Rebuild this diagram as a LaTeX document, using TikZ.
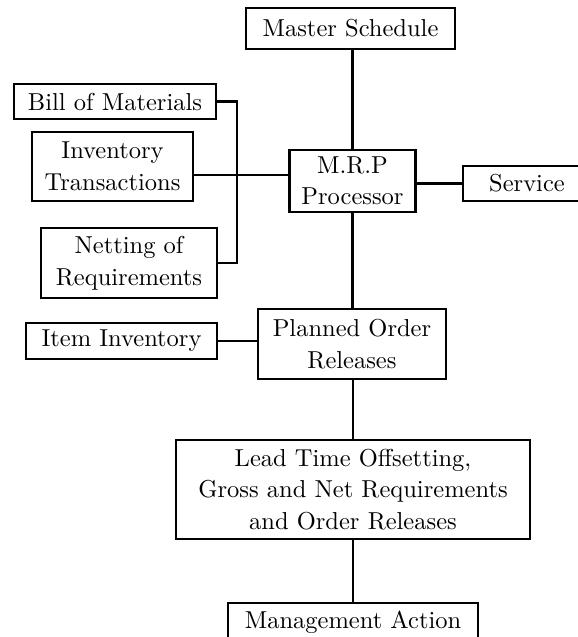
\documentclass[tikz,border=0pt]{standalone}
\usepackage{fontspec}
% the 10pt design of Latin Modern, scaled up: wider and darker than the display cuts
\setmainfont{lmroman10-regular}[Extension=.otf]
\begin{document}
\begin{tikzpicture}[x=1pt,y=-1pt,
  box/.style={draw, line width=2.7pt, align=center, inner sep=0pt,
    font=\fontsize{24.5}{31.5}\selectfont},
  link/.style={line width=2.7pt}]
\useasboundingbox (0,0) rectangle (578,637);
\clip (0,0) rectangle (578,637);

% boxes
\node[box, minimum width=209, minimum height=41] (master)  at (350.5,28.5) {Master Schedule};
\node[box, minimum width=126, minimum height=62] (mrp)     at (352.5,181)  {M.R.P\\Processor};
\node[box, minimum width=128, minimum height=35] (service) at (527,183.5)  {Service};
\node[box, minimum width=202, minimum height=35] (bom)     at (115,101.5)  {Bill of Materials};
\node[box, minimum width=161, minimum height=69] (invtr)   at (112.5,166.5){Inventory\\Transactions};
\node[box, minimum width=176, minimum height=70] (netting) at (129,263)    {Netting of\\Requirements};
\node[box, minimum width=191, minimum height=36] (item)    at (121.5,341)  {Item Inventory};
\node[box, minimum width=188, minimum height=70] (planned) at (352,344)    {Planned Order\\Releases};
\node[box, minimum width=354, minimum height=99] (lead)    at (353,489.5)  {Lead Time Offsetting,\\Gross and Net Requirements\\and Order Releases};
\node[box, minimum width=250, minimum height=38] (mgmt)    at (353,622)    {Management Action};

% collector bus for the left-hand inputs
\coordinate (bus) at (237,175);

% connectors
\draw[link] (mrp.north |- master.south) -- (mrp.north);
\draw[link] (service.west -| mrp.east) -- (service.west);
\draw[link] (bom.east) -- (bom.east -| bus) -- (netting.east -| bus) -- (netting.east);
\draw[link] (invtr.east |- bus) -- (bus -| mrp.west);
\draw[link] (mrp.south) -- (mrp.south |- planned.north);
\draw[link] (item.east) -- (item.east -| planned.west);
\draw[link] (lead.north |- planned.south) -- (lead.north);
\draw[link] (lead.south) -- (lead.south |- mgmt.north);
\end{tikzpicture}
\end{document}
